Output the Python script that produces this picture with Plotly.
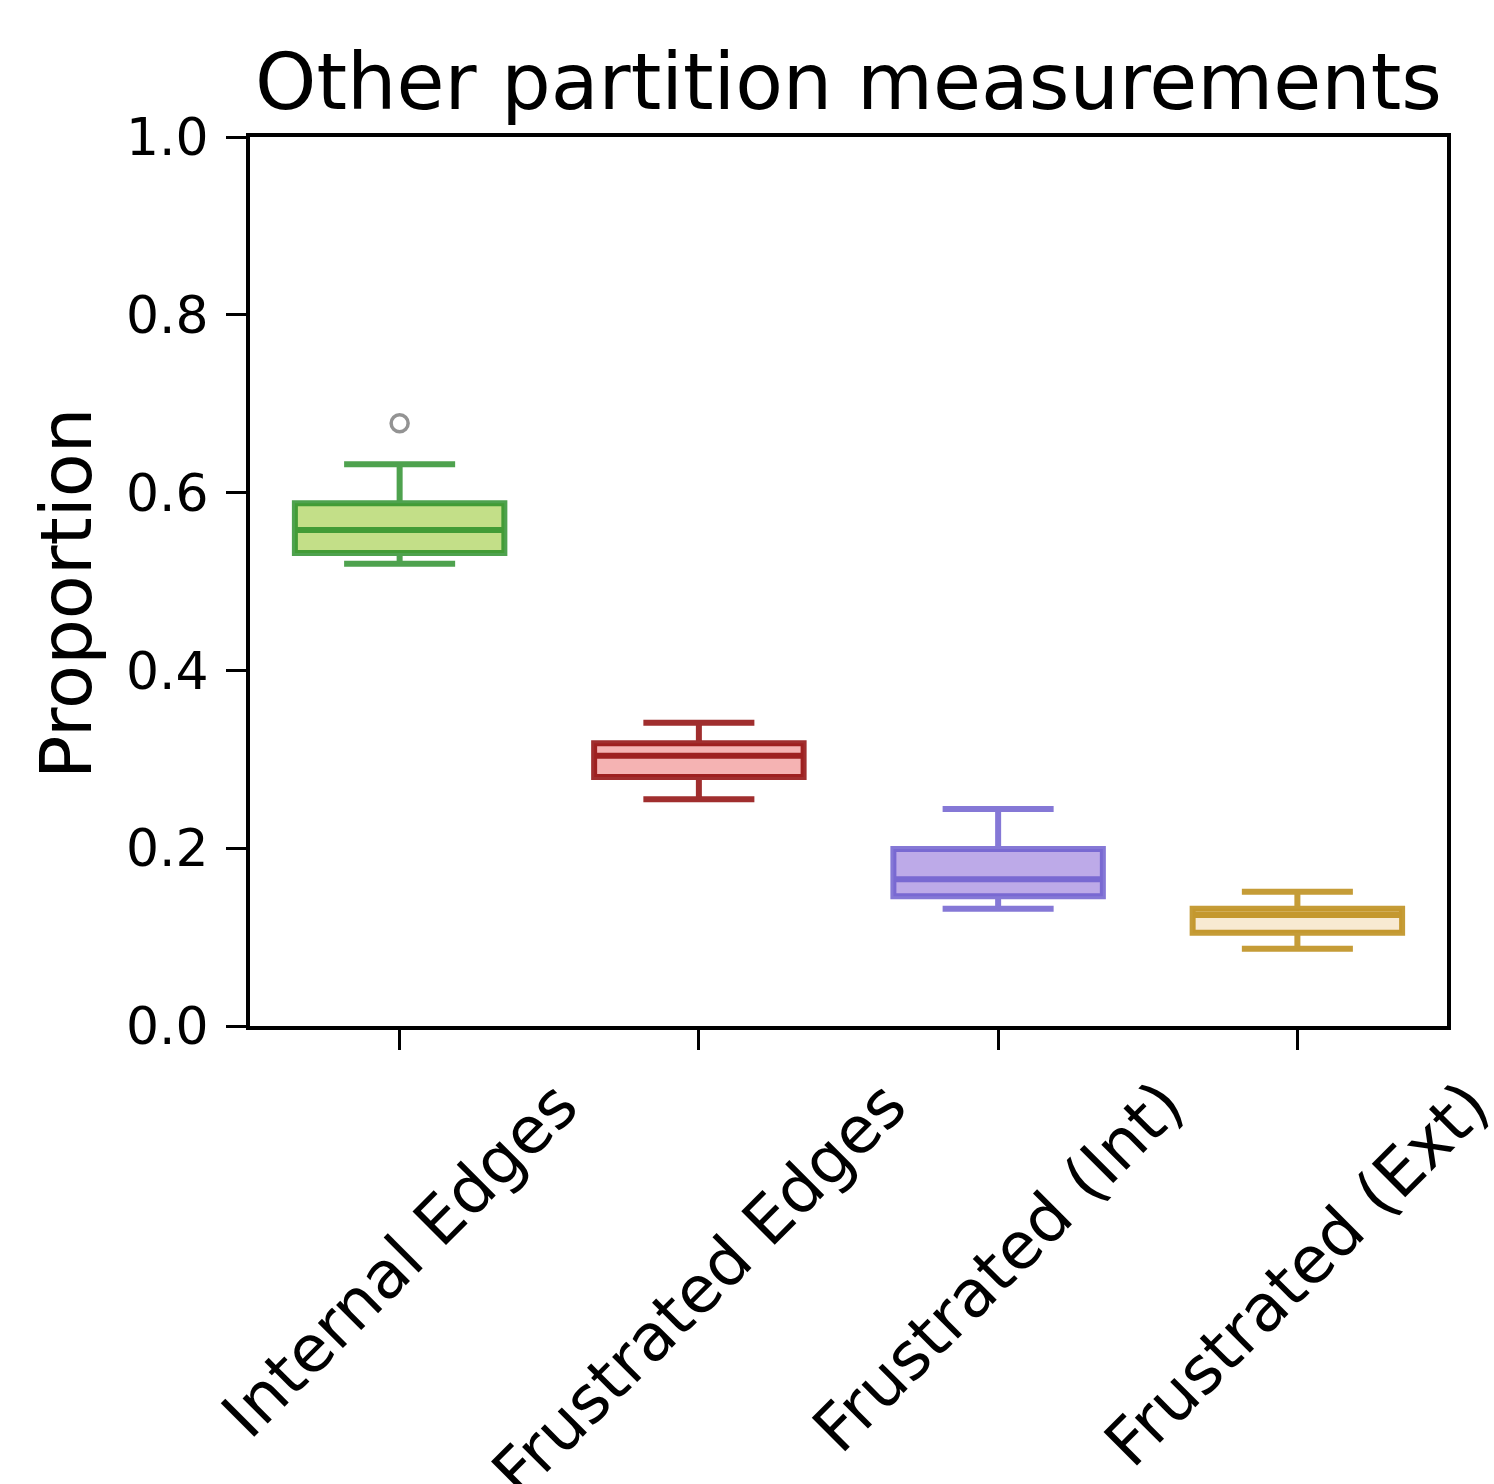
import plotly.graph_objects as go

categories = ["Internal Edges", "Frustrated Edges", "Frustrated (Int)", "Frustrated (Ext)"]
q1 = [0.532, 0.280, 0.146, 0.105]
median = [0.558, 0.304, 0.165, 0.125]
q3 = [0.588, 0.318, 0.199, 0.132]
lower_whisker = [0.520, 0.255, 0.132, 0.087]
upper_whisker = [0.632, 0.341, 0.244, 0.151]
outlier_cats = ["Internal Edges"]
outlier_vals = [0.678]

fill_colors = ["rgb(195,223,136)", "rgb(245,179,179)", "rgb(189,170,232)", "rgb(248,234,210)"]
line_colors = ["rgba(34,139,34,0.8)", "rgba(139,0,0,0.82)", "rgba(106,90,205,0.82)", "rgba(184,134,11,0.82)"]

yticks = [0.0, 0.2, 0.4, 0.6, 0.8, 1.0]
ytick_text = ["0.0", "0.2", "0.4", "0.6", "0.8", "1.0"]

FONT = "DejaVu Sans"

fig = go.Figure()
for i, c in enumerate(categories):
    fig.add_trace(go.Box(
        x=[c], q1=[q1[i]], median=[median[i]], q3=[q3[i]],
        lowerfence=[lower_whisker[i]], upperfence=[upper_whisker[i]],
        width=0.7, whiskerwidth=0.53,
        fillcolor=fill_colors[i],
        line=dict(color=line_colors[i], width=6),
        boxpoints=False, showlegend=False, hoverinfo="skip",
    ))

fig.add_trace(go.Scatter(
    x=outlier_cats, y=outlier_vals, mode="markers",
    marker=dict(symbol="circle-open", size=17, color="rgba(128,128,128,0.85)",
                line=dict(width=3.5, color="rgba(128,128,128,0.85)")),
    showlegend=False, hoverinfo="skip",
))

fig.update_layout(
    width=1494, height=1484,
    margin=dict(l=250, r=47, t=137, b=458),
    paper_bgcolor="white", plot_bgcolor="white",
    font=dict(family=FONT, color="black"),
    boxmode="overlay",
)

fig.update_xaxes(
    type="category", categoryorder="array", categoryarray=categories,
    range=[-0.5, 3.5], showgrid=False, zeroline=False,
    showline=True, linecolor="black", linewidth=4, mirror=True,
    ticks="outside", ticklen=20, tickwidth=3, tickcolor="black",
    showticklabels=False,
)
fig.update_yaxes(
    range=[0, 1], showgrid=False, zeroline=False,
    showline=True, linecolor="black", linewidth=4, mirror=True,
    ticks="outside", ticklen=20, tickwidth=3, tickcolor="black",
    tickvals=yticks, ticktext=ytick_text,
    tickfont=dict(size=52, family=FONT, color="black"),
    ticklabelstandoff=7,
)

# Title
fig.add_annotation(
    text="Other partition measurements", xref="paper", yref="paper",
    x=0.5, y=1, xanchor="center", yanchor="bottom", yshift=8,
    showarrow=False, font=dict(size=78, family=FONT, color="black"),
)
# Y label
fig.add_annotation(
    text="Proportion", xref="paper", yref="paper",
    x=0, y=0.487, xanchor="center", yanchor="middle", xshift=-184,
    textangle=-90, showarrow=False, font=dict(size=72, family=FONT, color="black"),
)
# X tick labels, rotated 45 degrees and centered under ticks
for c in categories:
    fig.add_annotation(
        text=c, x=c, xref="x", yref="paper", y=0,
        xanchor="center", yanchor="top", yshift=-38,
        textangle=-45, showarrow=False,
        font=dict(size=65, family=FONT, color="black"),
    )

fig.write_html("out.html")
